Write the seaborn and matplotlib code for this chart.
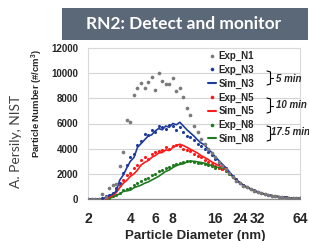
import numpy as np
import pandas as pd
import matplotlib
matplotlib.use("Agg")
import matplotlib.pyplot as plt
from matplotlib.lines import Line2D
from matplotlib.patches import Rectangle
import seaborn as sns

# ---------------- data ----------------
diameter = [2.00, 2.12, 2.24, 2.38, 2.52, 2.67, 2.83, 3.00, 3.17, 3.36, 3.56, 3.78,
            4.00, 4.24, 4.49, 4.76, 5.04, 5.34, 5.66, 5.99, 6.35, 6.73, 7.13, 7.55,
            8.00, 8.48, 8.98, 9.51, 10.08, 10.68, 11.31, 11.99, 12.70, 13.45, 14.25, 15.10,
            16.0, 17.0, 18.0, 19.0, 20.2, 21.4, 22.6, 24.0, 25.4, 26.9, 28.5, 30.2,
            32.0, 33.9, 35.9, 38.1, 40.3, 42.7, 45.3, 47.9, 50.8, 53.8, 57.0, 60.4, 64.0]

exp_n1 = [0, 0, 10, 30, 380, 150, 900, 1100, 1200, 2600, 3700, 6300,
          6100, 8300, 8850, 9250, 8800, 9300, 9700, 8700, 10000, 9400, 9100, 9100,
          9600, 8600, 8850, 8100, 7200, 6700, 5800, 5300, 4800, 4400, 4000, 3650,
          3300, 2950, 2650, 2400, 2100, 1750, 1450, 1250, 1050, 920, 780, 650,
          540, 450, 380, 320, 260, 220, 180, 140, 115, 90, 70, 55, 40]

exp_n3 = [0, 0, 0, 0, 50, 200, 300, 500, 900, 1300, 2100, 2700,
          3300, 3600, 4300, 4600, 5200, 5100, 5500, 5300, 5800, 5700, 5600, 5900,
          5800, 5500, 5700, 5300, 5000, 4900, 4700, 4400, 4200, 4000, 3750, 3500,
          3200, 2900, 2650, 2450, 2100, 1800, 1550, 1300, 1100, 950, 800, 680,
          560, 470, 390, 320, 270, 220, 180, 150, 120, 95, 75, 58, 45]

sim_n3 = [0, 0, 0, 0, 30, 120, 250, 400, 600, 1500, 1900, 2500,
          3000, 3300, 4100, 4400, 4700, 5000, 5100, 5400, 5600, 5500, 5800, 5700,
          6000, 5900, 6100, 5800, 5500, 5250, 5000, 4700, 4450, 4300, 3950, 3700,
          3350, 3050, 2750, 2500, 2150, 1800, 1500, 1300, 1080, 950, 800, 670,
          560, 470, 390, 330, 270, 230, 185, 150, 120, 95, 75, 58, 45]

exp_n5 = [0, 0, 0, 0, 20, 80, 200, 400, 700, 1100, 1500, 1900,
          2100, 2500, 2700, 3100, 3300, 3200, 3600, 3700, 3800, 3900, 4100, 4000,
          4200, 4300, 4200, 4000, 3900, 3800, 3600, 3450, 3300, 3100, 2950, 2800,
          2650, 2500, 2400, 2300, 2050, 1750, 1500, 1280, 1080, 940, 800, 670,
          560, 470, 390, 320, 270, 220, 180, 150, 120, 95, 75, 58, 45]

sim_n5 = [0, 0, 0, 0, 10, 40, 120, 300, 500, 900, 1250, 1500,
          1800, 2000, 2300, 2700, 2900, 3050, 3300, 3450, 3650, 3700, 3900, 3850,
          4100, 4250, 4350, 4250, 4100, 3950, 3800, 3650, 3450, 3300, 3150, 2950,
          2800, 2650, 2550, 2400, 2100, 1800, 1500, 1280, 1080, 940, 800, 670,
          560, 470, 390, 320, 270, 220, 180, 150, 120, 95, 75, 58, 45]

exp_n8 = [0, 0, 0, 0, 0, 30, 80, 200, 350, 500, 700, 800,
          900, 1100, 1250, 1400, 1600, 1700, 1900, 2000, 2200, 2300, 2450, 2550,
          2700, 2800, 2900, 2950, 3050, 3000, 2950, 2900, 2850, 2750, 2700, 2600,
          2500, 2450, 2350, 2250, 2000, 1720, 1460, 1280, 1080, 940, 800, 670,
          560, 470, 390, 320, 270, 220, 180, 150, 120, 95, 75, 58, 45]

sim_n8 = [0, 0, 0, 0, 0, 20, 60, 150, 300, 400, 600, 650,
          700, 900, 1000, 1100, 1250, 1350, 1500, 1650, 1800, 2000, 2200, 2300,
          2500, 2650, 2750, 2800, 2950, 3000, 3000, 2950, 2900, 2850, 2750, 2650,
          2550, 2500, 2450, 2350, 2050, 1750, 1480, 1280, 1080, 940, 800, 670,
          560, 470, 390, 320, 270, 220, 180, 150, 120, 95, 75, 58, 45]

x_ticks = [2, 4, 6, 8, 16, 24, 32, 64]
y_ticks = [0, 2000, 4000, 6000, 8000, 10000, 12000]

title_text = "RN2: Detect and monitor"
credit_text = "A. Persily, NIST"
xlabel = "Particle Diameter (nm)"
ylabel = "Particle Number (#/cm$\\mathregular{^3}$)"
legend_labels = ["Exp_N1", "Exp_N3", "Sim_N3", "Exp_N5", "Sim_N5", "Exp_N8", "Sim_N8"]
group_labels = ["5 min", "10 min", "17.5 min"]

# ---------------- style ----------------
sns.set_style("white")
plt.rcParams["font.family"] = ["Liberation Sans", "DejaVu Sans"]

C_GRAY = "#7a7a7a"
C_BLUE = "#1f3c9c"
C_RED = "#ff1a1a"
C_GREEN = "#1f7a1f"

W, H = 309, 241
fig = plt.figure(figsize=(W / 100, H / 100), dpi=100)

def fx(px):
    return px / W

def fy(py):
    return 1 - py / H

ax_l, ax_r, ax_t, ax_b = 88, 300, 48, 199
ax = fig.add_axes([fx(ax_l), fy(ax_b), fx(ax_r - ax_l), (ax_b - ax_t) / H])

df = pd.DataFrame({"d": diameter, "exp_n1": exp_n1, "exp_n3": exp_n3, "sim_n3": sim_n3,
                   "exp_n5": exp_n5, "sim_n5": sim_n5, "exp_n8": exp_n8, "sim_n8": sim_n8})

ms = 5
sns.scatterplot(data=df, x="d", y="exp_n8", color=C_GREEN, s=ms, linewidth=0, ax=ax, zorder=3)
sns.scatterplot(data=df, x="d", y="exp_n5", color=C_RED, s=ms, linewidth=0, ax=ax, zorder=3)
sns.scatterplot(data=df, x="d", y="exp_n3", color=C_BLUE, s=ms, linewidth=0, ax=ax, zorder=3)
sns.lineplot(data=df, x="d", y="sim_n8", color=C_GREEN, linewidth=1.2, ax=ax, zorder=4)
sns.lineplot(data=df, x="d", y="sim_n5", color=C_RED, linewidth=1.2, ax=ax, zorder=4)
sns.lineplot(data=df, x="d", y="sim_n3", color=C_BLUE, linewidth=1.2, ax=ax, zorder=4)
sns.scatterplot(data=df, x="d", y="exp_n1", color=C_GRAY, s=7, linewidth=0, ax=ax, zorder=5)

ax.set_xscale("log", base=2)
ax.set_xlim(2, 64)
ax.set_ylim(0, 12000)
ax.set_xticks(x_ticks)
ax.set_xticklabels([str(t) for t in x_ticks])
ax.minorticks_off()
ax.set_yticks(y_ticks)
ax.set_yticklabels([str(t) for t in y_ticks])
ax.tick_params(axis="y", labelsize=7, length=0, pad=7)
ax.tick_params(axis="x", labelsize=10, length=3, direction="out", color="#888888", pad=6.5)
for lab in ax.get_xticklabels() + ax.get_yticklabels():
    lab.set_fontweight("bold")

ax.grid(axis="y", color="#d4d4d4", linewidth=0.8)
ax.set_axisbelow(True)
for s in ["top", "right", "left"]:
    ax.spines[s].set_color("#d9d9d9")
    ax.spines[s].set_linewidth(0.8)
ax.spines["bottom"].set_color("#8a8a8a")
ax.spines["bottom"].set_linewidth(0.9)

ax.set_xlabel("")
ax.set_ylabel("")
fig.text(fx(195), fy(236), xlabel, fontsize=9.5, fontweight="bold", ha="center", va="center")
fig.text(fx(37), fy(104), ylabel, rotation=90, fontsize=6.8, fontweight="bold",
         ha="center", va="center")

# legend
handles = [
    Line2D([], [], marker="o", color=C_GRAY, linestyle="none", markersize=1.6),
    Line2D([], [], marker="o", color=C_BLUE, linestyle="none", markersize=1.6),
    Line2D([], [], color=C_BLUE, linewidth=1.5),
    Line2D([], [], marker="o", color=C_RED, linestyle="none", markersize=1.6),
    Line2D([], [], color=C_RED, linewidth=1.5),
    Line2D([], [], marker="o", color=C_GREEN, linestyle="none", markersize=1.6),
    Line2D([], [], color=C_GREEN, linewidth=1.5),
]
leg = ax.legend(handles, legend_labels, loc="upper left",
                bbox_to_anchor=(fx(208), fy(51)), bbox_transform=fig.transFigure,
                frameon=False, prop={"size": 7, "weight": "bold"},
                handlelength=0.85, handletextpad=0.25, labelspacing=0.38,
                borderpad=0, borderaxespad=0)
leg.set_zorder(10)

# braces with group labels
braces = [(71, 85), (98, 113), (126, 141)]
label_y = [79, 105, 132]
label_x = [276, 276, 271]
for (y0, y1), ly, lx, txt in zip(braces, label_y, label_x, group_labels):
    xm = 270.5
    xh = 267
    ym = (y0 + y1) / 2
    fig.add_artist(Line2D([fx(xh), fx(xm), fx(xm), fx(xh)], [fy(y0), fy(y0 + 1), fy(y1 - 1), fy(y1)],
                          color="black", linewidth=0.8, transform=fig.transFigure))
    fig.add_artist(Line2D([fx(xm), fx(xm + 2.5)], [fy(ym), fy(ym)],
                          color="black", linewidth=0.8, transform=fig.transFigure))
    fig.text(fx(lx), fy(ly), txt, fontsize=7, fontweight="bold", style="italic",
             ha="left", va="center")

# title banner
fig.add_artist(Rectangle((fx(62), fy(40)), fx(308 - 62), (40 - 8) / H,
                         transform=fig.transFigure, facecolor="#5a6878", edgecolor="none"))
fig.text(fx(184), fy(24), title_text, color="white", fontsize=12.5, fontweight="bold",
         family=["Lato", "DejaVu Sans"], ha="center", va="center")

# credit text
fig.text(fx(16), fy(141), credit_text, rotation=90, fontsize=10, color="#404040",
         family=["Lato", "DejaVu Sans"], ha="center", va="center")

fig.savefig("out.png", dpi=100)
